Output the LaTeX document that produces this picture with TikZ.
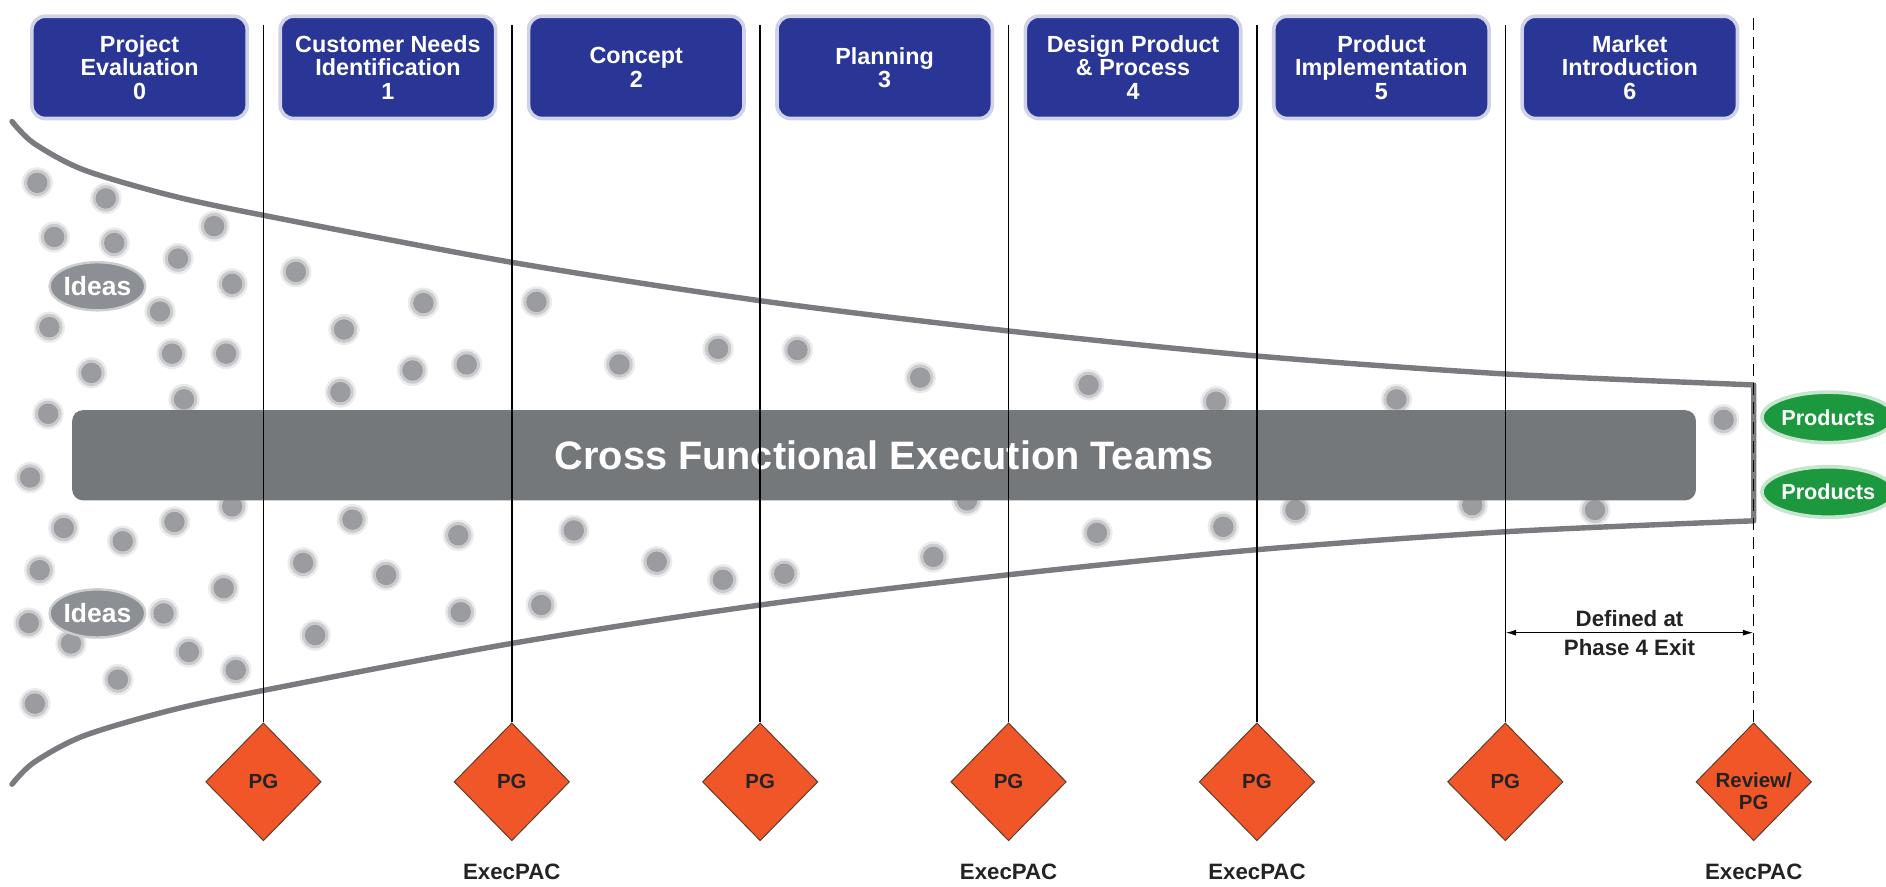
\documentclass[tikz,border=0pt]{standalone}
\usepackage{fontspec}
\setmainfont{Liberation Sans}
\usetikzlibrary{shapes.geometric,positioning,arrows.meta}

\definecolor{boxblue}{RGB}{42,54,150}
\definecolor{gateorange}{RGB}{240,86,40}
\definecolor{gateedge}{RGB}{90,60,45}
\definecolor{bargray}{RGB}{117,120,123}
\definecolor{ideagray}{RGB}{140,143,148}
\definecolor{dotgray}{RGB}{155,156,160}
\definecolor{funnelgray}{RGB}{122,123,127}
\definecolor{prodgreen}{RGB}{28,152,62}
\definecolor{notegray}{RGB}{35,35,35}

\tikzset{
  phase/.style={rectangle, rounded corners=11pt, fill=boxblue, draw=boxblue!22, line width=3pt,
    minimum width=179pt, minimum height=85pt, inner sep=0pt, align=center, text=white,
    font=\fontsize{19.4}{19.4}\selectfont\bfseries},
  gate/.style={diamond, fill=gateorange, draw=gateedge, line width=0.8pt,
    minimum width=96pt, minimum height=98pt, inner sep=0pt, align=center, text=notegray,
    font=\fontsize{17}{19}\selectfont\bfseries},
  gateline/.style={line width=1.2pt},
  funnel/.style={draw=funnelgray, line width=4.5pt, line join=round, line cap=round},
  teams/.style={rectangle, rounded corners=9pt, fill=bargray, minimum width=1350pt,
    minimum height=75pt, text=white, font=\fontsize{33}{33}\selectfont\bfseries},
  idea/.style={ellipse, fill=ideagray, draw=ideagray!45, line width=2pt, minimum width=72pt,
    minimum height=40pt, inner sep=0pt, text=white, font=\fontsize{22}{22}\selectfont\bfseries},
  product/.style={ellipse, fill=prodgreen, draw=prodgreen!25, line width=3pt, minimum width=90pt,
    minimum height=42pt, inner sep=0pt, text=white, font=\fontsize{18}{18}\selectfont\bfseries},
  note/.style={inner sep=0pt, align=center, text=notegray, font=\fontsize{18.5}{24}\selectfont\bfseries},
}

\begin{document}
\begin{tikzpicture}[x=1pt,y=-1pt]
    \useasboundingbox (0,0) rectangle (1568,737);

    % blurred idea dots
    \foreach \p in {(31,152),(88,165),(45,197),(95,202),(178,188),(148,215),(193,236),(246,226),
        (352,252),(446,251),(286,274),(133,259),(41,272),(143,294),(188,294),(76,310),(343,308),
        (388,303),(283,326),(515,303),(40,344),(153,332),(597,290),(663,291),(765,314),(905,320),
        (1011,334),(1161,332),(1433,349),
        (25,397),(53,439),(102,450),(145,434),(193,421),(293,432),(381,445),(477,441),(33,474),
        (252,468),(321,478),(186,489),(24,518),(136,510),(59,535),(383,509),(450,503),(262,528),
        (157,542),(196,557),(98,565),(29,585),(804,416),(1077,424),(1224,420),(1326,424),
        (912,443),(1017,438),(546,467),(601,482),(652,477),(776,463)}{
      \fill[dotgray,opacity=0.2] \p circle(13pt);
      \fill[dotgray,opacity=0.4] \p circle(11pt);
      \fill[dotgray] \p circle(8.5pt);
    }

    % funnel
    \draw[funnel] plot[smooth] coordinates {(10,101) (28,119) (69,141) (140,162) (219,179) (425,218)
        (632,250) (837,275) (1045,296) (1253,311) (1458,320)}
      -- plot[smooth] coordinates {(1458,433) (1253,442) (1045,457) (837,478) (632,503) (425,535)
        (219,574) (140,591) (69,612) (28,634) (10,652)};

    \node[teams] (cft) at (735,378.5) {Cross Functional Execution Teams};

    \node[idea] (idea1) at (81,238) {Ideas};
    \node[idea] (idea2) at (81,510) {Ideas};
    \node[product] (prod1) at (1520,347) {Products};
    \node[product] (prod2) at (1520,409) {Products};

    % phases
    \node[phase] (ph0) at (116,56) {Project\\Evaluation\\0};
    \node[phase] (ph1) at (322.5,56) {Customer Needs\\Identification\\1};
    \node[phase] (ph2) at (529,56) {Concept\\2};
    \node[phase] (ph3) at (735.5,56) {Planning\\3};
    \node[phase] (ph4) at (942,56) {Design Product\\\& Process\\4};
    \node[phase] (ph5) at (1148.5,56) {Product\\Implementation\\5};
    \node[phase] (ph6) at (1355,56) {Market\\Introduction\\6};

    % phase gates
    \node[gate] (pg0) at (219,650) {PG};
    \node[gate] (pg1) at (425.5,650) {PG};
    \node[gate] (pg2) at (632,650) {PG};
    \node[gate] (pg3) at (838.5,650) {PG};
    \node[gate] (pg4) at (1045,650) {PG};
    \node[gate] (pg5) at (1251.5,650) {PG};
    \node[gate, inner sep=-4pt] (pg6) at (1458,650)
      {\raisebox{-10pt}[\height][\depth]{\begin{tabular}{@{}c@{}}Review/\\PG\end{tabular}}};

    \coordinate (top) at (0,21);
    \coordinate (topd) at (0,12);
    \draw[gateline] (pg0.north) -- (pg0.north |- top);
    \draw[gateline] (pg1.north) -- (pg1.north |- top);
    \draw[gateline] (pg2.north) -- (pg2.north |- top);
    \draw[gateline] (pg3.north) -- (pg3.north |- top);
    \draw[gateline] (pg4.north) -- (pg4.north |- top);
    \draw[gateline] (pg5.north) -- (pg5.north |- top);
    \draw[gateline,dash pattern=on 10pt off 6pt] (pg6.north) -- (pg6.north |- topd);

    \node[note, below=19pt of pg1] (ex1) {ExecPAC};
    \node[note, below=19pt of pg3] (ex3) {ExecPAC};
    \node[note, below=19pt of pg4] (ex4) {ExecPAC};
    \node[note, below=19pt of pg6] (ex6) {ExecPAC};

    \node[note] (defined) at (1354.75,526) {Defined at\\Phase 4 Exit};
    \draw[gateline,{Latex[length=9pt,width=5pt]}-{Latex[length=9pt,width=5pt]}] (pg5 |- defined) -- (pg6 |- defined);
\end{tikzpicture}
\end{document}
